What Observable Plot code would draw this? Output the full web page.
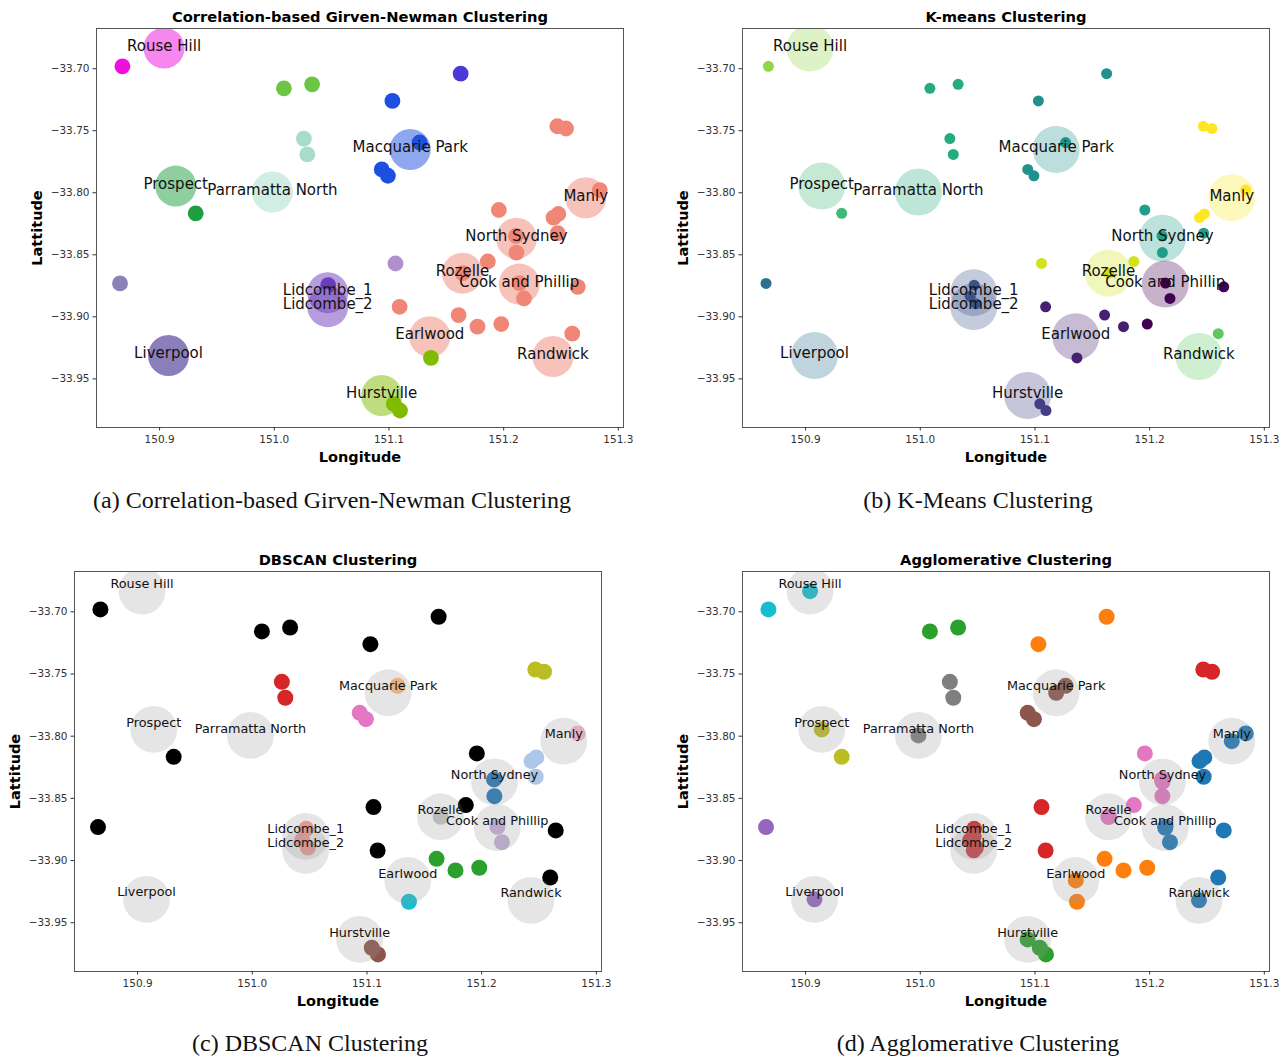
<!DOCTYPE html>
<html><head><meta charset="utf-8">
<script src="https://cdn.jsdelivr.net/npm/d3@7"></script>
<script src="https://cdn.jsdelivr.net/npm/@observablehq/plot@0.6"></script>
<style>
body{margin:0;background:#fff;}
#fig{position:relative;width:1288px;height:1059px;overflow:hidden;background:#fff;}
.panel{position:absolute;}
.cap{position:absolute;font-family:"Liberation Serif","Times New Roman",serif;font-size:24px;color:#111;white-space:nowrap;transform:translate(-50%,-50%);}
</style></head><body><div id="fig"></div>
<script>
// ---- data ----
const siteNames = ["Rouse Hill","Prospect","Parramatta North","Macquarie Park","Manly","North Sydney","Rozelle","Cook and Phillip","Lidcombe_1","Lidcombe_2","Earlwood","Randwick","Liverpool","Hurstville"];
const siteLon = [150.9039,150.9141,150.9984,151.1185,151.2716,151.2112,151.1641,151.2136,151.0466,151.0466,151.1356,151.2430,150.9078,151.0936];
const siteLat = [-33.6834,-33.7946,-33.7994,-33.7651,-33.8040,-33.8367,-33.8648,-33.8736,-33.8805,-33.8918,-33.9160,-33.9320,-33.9312,-33.9634];

const stationLon = [150.8676,151.0084,151.0330,151.1625,151.1030,151.0258,151.0288,151.1267,151.0937,151.0991,
  151.2468,151.2544,150.9315,151.2838,151.1958,151.2435,151.2477,151.2471,151.2108,151.2111,
  151.1862,151.1057,151.1643,150.8655,151.2138,151.2177,151.2646,151.0470,151.0435,151.0485,
  151.1093,151.1607,151.1772,151.1979,151.1366,151.2598,151.1042,151.1096];
const stationLat = [-33.6981,-33.7158,-33.7126,-33.7040,-33.7260,-33.7563,-33.7691,-33.7595,-33.7812,-33.7863,
  -33.7464,-33.7482,-33.8166,-33.7978,-33.8139,-33.8200,-33.8171,-33.8326,-33.8348,-33.8482,
  -33.8554,-33.8570,-33.8648,-33.8731,-33.8728,-33.8852,-33.8758,-33.8745,-33.8835,-33.8895,
  -33.8919,-33.8986,-33.9079,-33.9058,-33.9331,-33.9136,-33.9701,-33.9755];

const xTicks = [150.9,151.0,151.1,151.2,151.3];
const yTicks = [-33.70,-33.75,-33.80,-33.85,-33.90,-33.95];

// cluster labels per method
const gnStationCluster = [0,1,1,3,2,4,4,2,2,2, 5,5,6,5,5,5,5,5,5,5, 5,7,5,8,5,5,5,9,12,12, 5,5,5,5,10,5,10,10];
const gnSiteCluster = [0,6,4,2,5,5,5,5,9,9,5,5,11,10];
const kmStationCluster = [0,1,1,2,2,1,1,2,2,2, 4,4,5,4,3,4,4,3,3,3, 6,6,6,9,7,7,7,8,8,8, 10,10,10,7,10,11,12,12];
const kmSiteCluster = [0,5,1,2,4,3,6,7,8,8,10,11,9,12];
const dbStationCluster = [-1,-1,-1,-1,-1,0,0,1,2,2, 3,3,-1,4,-1,5,5,5,6,6, -1,-1,7,-1,8,8,-1,9,9,9, -1,10,10,10,11,-1,12,12];
const agStationCluster = [0,1,1,2,2,3,3,4,4,4, 5,5,6,7,8,7,7,7,8,8, 8,5,8,9,7,7,7,5,5,5, 5,2,2,2,2,7,1,1];
const agSiteCluster = [0,6,3,4,7,8,8,7,5,5,2,7,9,1];

// ---- styles ----
const gnPalette = {0:"#ee10dd",1:"#6cc644",2:"#1f4fe0",3:"#4a38d8",4:"#a6dcc8",5:"#f08676",6:"#1e9e40",7:"#b090cc",8:"#8982b9",9:"#6d3cbc",10:"#80bb00",11:"#180078",12:"#9472cc"};
const kmPalette = {0:"#8fd744",1:"#25ab82",2:"#21918c",3:"#1f9e89",4:"#fde725",5:"#3bbb75",6:"#d2e21b",7:"#440154",8:"#3b528b",9:"#2c728e",10:"#46216f",11:"#5ec962",12:"#433e85"};
const dbPalette = {"-1":"#000000",0:"#d62728",1:"#ffbb78",2:"#e377c2",3:"#bcbd22",4:"#f7b6d2",5:"#aec7e8",6:"#1f77b4",7:"#c7c7c7",8:"#c5b0d5",9:"#ff9896",10:"#2ca02c",11:"#17becf",12:"#8c564b"};
const agPalette = {0:"#17becf",1:"#2ca02c",2:"#ff7f0e",3:"#7f7f7f",4:"#8c564b",5:"#d62728",6:"#bcbd22",7:"#1f77b4",8:"#e377c2",9:"#9467bd"};

const fig = document.getElementById("fig");
const ML = 70, MR = 10, MT = 30, MB = 50;

function makePanel(o) {
  const stations = stationLon.map((lon, i) => ({lon, lat: stationLat[i], c: o.stationCluster[i]}));
  const sites = siteNames.map((name, i) => ({name, lon: siteLon[i], lat: siteLat[i], c: o.siteCluster ? o.siteCluster[i] : null}));
  const circles = o.siteCluster && !o.greyCircles
    ? Plot.dot(sites, {x: "lon", y: "lat", r: o.siteR, fill: d => o.palette[d.c], fillOpacity: o.siteOpacity, stroke: null, clip: true})
    : Plot.dot(sites, {x: "lon", y: "lat", r: o.siteR, fill: "#999999", fillOpacity: 0.25, stroke: null, clip: true});
  const dots = Plot.dot(stations, {x: "lon", y: "lat", r: o.dotR, fill: d => o.palette[d.c], stroke: null, clip: true});
  const siteDots = o.siteDots ? Plot.dot(sites, {x: "lon", y: "lat", r: o.dotR, fill: d => o.palette[d.c], stroke: null, clip: true}) : null;
  const layers = o.greyCircles ? [dots, siteDots, circles] : [circles, dots];
  const plot = Plot.plot({
    width: o.W + ML + MR, height: o.H + MT + MB,
    marginLeft: ML, marginRight: MR, marginTop: MT, marginBottom: MB,
    x: {domain: [150.8450, 151.3045]},
    y: {domain: [-33.9892, -33.6676]},
    color: {type: "identity"},
    style: {fontFamily: "DejaVu Sans, sans-serif", fontSize: "10.5px", background: "transparent", overflow: "visible"},
    marks: [
      ...layers.filter(Boolean),
      Plot.text(sites, {x: "lon", y: "lat", text: "name", fontSize: o.labelSize, dy: o.labelDy, fill: "#111"}),
      Plot.frame({stroke: "#555", strokeWidth: 1}),
      Plot.axisX({ticks: xTicks, tickFormat: d3.format(".1f"), tickSize: 3.5, tickPadding: 4.5, fontSize: 10.5, label: null, color: "#333"}),
      Plot.axisY({ticks: yTicks, tickFormat: d3.format(".2f"), tickSize: 3.5, tickPadding: 3.5, fontSize: 10.5, label: null, color: "#333"}),
      Plot.text([o.title], {text: d => d, frameAnchor: "top", dy: -11, fontSize: 14.7, fontWeight: "bold", textAnchor: "middle", lineAnchor: "middle", fill: "#000"}),
      Plot.text(["Longitude"], {text: d => d, frameAnchor: "bottom", dy: 30, fontSize: 14.5, fontWeight: "bold", textAnchor: "middle", lineAnchor: "middle", fill: "#000"}),
      Plot.text(["Lattitude"], {text: d => d, frameAnchor: "left", dx: -59, rotate: -90, fontSize: 14.5, fontWeight: "bold", textAnchor: "middle", lineAnchor: "middle", fill: "#000"})
    ]
  });
  plot.classList.add("panel");
  plot.style.left = (o.L - ML) + "px";
  plot.style.top = (o.T - MT) + "px";
  fig.appendChild(plot);
  const cap = document.createElement("div");
  cap.className = "cap";
  cap.textContent = o.caption;
  cap.style.left = o.capX + "px";
  cap.style.top = o.capY + "px";
  fig.appendChild(cap);
}

makePanel({L: 96, T: 28, W: 527, H: 399, title: "Correlation-based Girven-Newman Clustering",
  stationCluster: gnStationCluster, siteCluster: gnSiteCluster, palette: gnPalette, siteOpacity: 0.5,
  siteR: 20.5, dotR: 7.9, labelSize: 15, labelDy: -2,
  caption: "(a) Correlation-based Girven-Newman Clustering", capX: 332, capY: 500});
makePanel({L: 742, T: 28, W: 527, H: 399, title: "K-means Clustering",
  stationCluster: kmStationCluster, siteCluster: kmSiteCluster, palette: kmPalette, siteOpacity: 0.3,
  siteR: 23.5, dotR: 5.5, labelSize: 15, labelDy: -2,
  caption: "(b) K-Means Clustering", capX: 978, capY: 500});
makePanel({L: 74, T: 571, W: 527, H: 400, title: "DBSCAN Clustering",
  stationCluster: dbStationCluster, siteCluster: null, palette: dbPalette, greyCircles: true,
  siteR: 23.4, dotR: 8, labelSize: 12.8, labelDy: -7,
  caption: "(c) DBSCAN Clustering", capX: 310, capY: 1043});
makePanel({L: 742, T: 571, W: 527, H: 400, title: "Agglomerative Clustering",
  stationCluster: agStationCluster, siteCluster: agSiteCluster, palette: agPalette, greyCircles: true, siteDots: true,
  siteR: 23.4, dotR: 8, labelSize: 12.8, labelDy: -7,
  caption: "(d) Agglomerative Clustering", capX: 978, capY: 1043});
</script></body></html>
